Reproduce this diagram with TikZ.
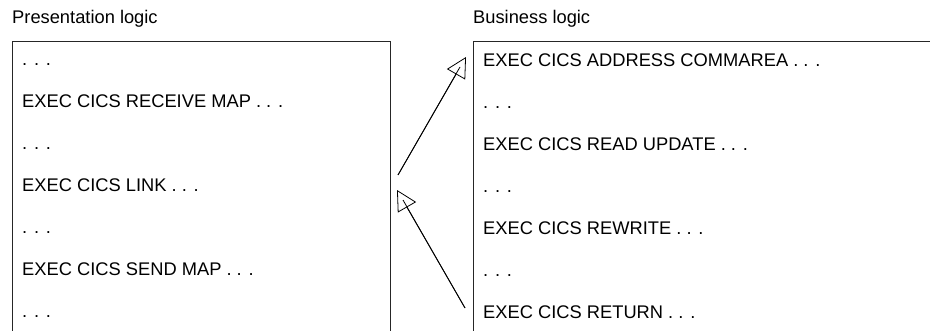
\documentclass[tikz,border=0pt]{standalone}
\usepackage{fontspec}
\setmainfont{Liberation Sans}
\usetikzlibrary{arrows.meta}
\begin{document}
\begin{tikzpicture}[x=1pt,y=-1pt,
  txt/.style={anchor=base west,inner sep=0pt,font=\fontsize{18.3}{22}\selectfont},
  boxline/.style={line width=0.9pt,black!85},
  flowline/.style={line width=0.8pt},
  flow/.style={line width=0.8pt,-{Triangle[open,length=20pt,width=21pt,line width=0.8pt]}}]
\useasboundingbox (0,0) rectangle (930,331);
% headings
\node[txt] (hl) at (12,24) {Presentation logic};
\node[txt] (hr) at (473,24) {Business logic};
% boxes (open at bottom / right)
\coordinate (lbl) at (12,331);
\coordinate (ltl) at (12,41);
\coordinate (ltr) at (390.5,41);
\coordinate (lbr) at (390.5,331);
\draw[boxline] (lbl) -- (ltl) -- (ltr) -- (lbr);
\coordinate (rbl) at (473,331);
\coordinate (rtl) at (473,41);
\coordinate (rtr) at (930,41);
\draw[boxline] (rbl) -- (rtl) -- (rtr);
% left rows
\node[txt] (l1) at (22,66) {. . .};
\node[txt] (l2) at (22,108) {EXEC CICS RECEIVE MAP . . .};
\node[txt] (l3) at (22,150) {. . .};
\node[txt] (l4) at (22,192) {EXEC CICS LINK . . .};
\node[txt] (l5) at (22,234) {. . .};
\node[txt] (l6) at (22,276) {EXEC CICS SEND MAP . . .};
\node[txt] (l7) at (22,318) {. . .};
% right rows
\node[txt] (r1) at (483,66.5) {EXEC CICS ADDRESS COMMAREA . . .};
\node[txt] (r2) at (483,108.5) {. . .};
\node[txt] (r3) at (483,150.5) {EXEC CICS READ UPDATE . . .};
\node[txt] (r4) at (483,192.5) {. . .};
\node[txt] (r5) at (483,234.5) {EXEC CICS REWRITE . . .};
\node[txt] (r6) at (483,276.5) {. . .};
\node[txt] (r7) at (483,318.5) {EXEC CICS RETURN . . .};
% arrows
\coordinate (a1s) at (398,175);
\coordinate (a1m) at (460,67);
\coordinate (a1e) at (466,57);
\coordinate (a2s) at (465,308);
\coordinate (a2m) at (403,200);
\coordinate (a2e) at (397,190);
\draw[flowline] (a1s) -- (a1m);
\draw[flow] (a1s) -- (a1e);
\draw[flowline] (a2s) -- (a2m);
\draw[flow] (a2s) -- (a2e);
\end{tikzpicture}
\end{document}
